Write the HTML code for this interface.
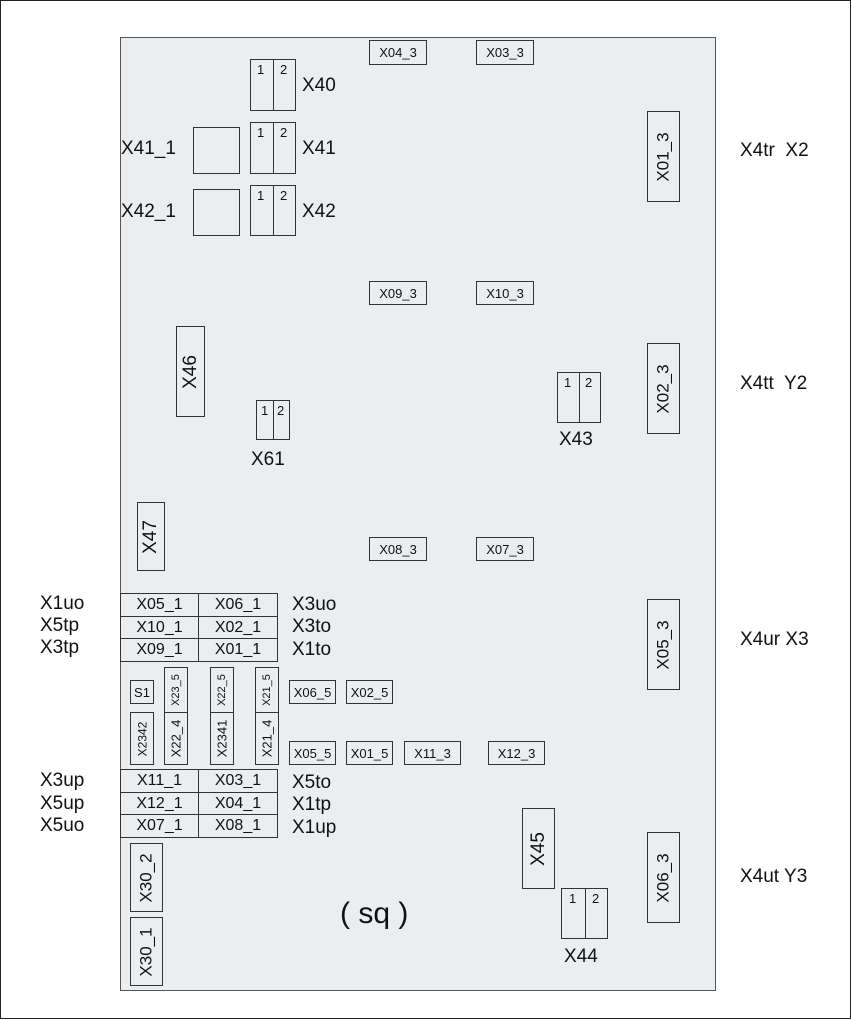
<!DOCTYPE html>
<html><head><meta charset="utf-8"><style>
html,body{margin:0;padding:0;background:#fff;}
body{width:851px;height:1020px;position:relative;overflow:hidden;font-family:"Liberation Sans",Arial,sans-serif;color:#111;}
.frame{position:absolute;left:0;top:0;width:849px;height:1017px;border:1px solid #222;}
.main{position:absolute;left:120px;top:37px;width:594px;height:952px;background:#eaeef1;border:1px solid #555;}
.b{position:absolute;border:1px solid #333;box-sizing:border-box;display:flex;align-items:center;justify-content:center;white-space:nowrap;}
.s{font-size:13px;}
.m{font-size:16px;}
.v span{transform:rotate(-90deg);display:block;}
.t{position:absolute;white-space:nowrap;font-size:19px;line-height:20px;}
.c2{position:absolute;border:1px solid #333;box-sizing:border-box;}
.c2:after{content:"";position:absolute;left:50%;top:0;bottom:0;border-left:1px solid #333;}
.c2 i{position:absolute;top:2px;font-style:normal;font-size:13px;}
</style></head><body>
<div class="frame"></div>
<div class="main"></div>

<div class="b s" style="left:369px;top:40px;width:58px;height:25px;">X04_3</div>
<div class="b s" style="left:476px;top:40px;width:58px;height:25px;">X03_3</div>
<div class="b s" style="left:369px;top:281px;width:58px;height:24px;">X09_3</div>
<div class="b s" style="left:476px;top:281px;width:58px;height:24px;">X10_3</div>
<div class="b s" style="left:369px;top:537px;width:58px;height:24px;">X08_3</div>
<div class="b s" style="left:476px;top:537px;width:58px;height:24px;">X07_3</div>

<div class="c2" style="left:250px;top:59px;width:46px;height:52px;"><i style="left:6px">1</i><i style="left:29px">2</i></div>
<div class="c2" style="left:250px;top:122px;width:46px;height:52px;"><i style="left:6px">1</i><i style="left:29px">2</i></div>
<div class="c2" style="left:250px;top:185px;width:46px;height:51px;"><i style="left:6px">1</i><i style="left:29px">2</i></div>
<div class="t" style="left:302px;top:76px;">X40</div>
<div class="t" style="left:302px;top:139px;">X41</div>
<div class="t" style="left:302px;top:202px;">X42</div>
<div class="b" style="left:193px;top:127px;width:47px;height:47px;"></div>
<div class="b" style="left:193px;top:189px;width:47px;height:47px;"></div>
<div class="t" style="left:121px;top:139px;">X41_1</div>
<div class="t" style="left:121px;top:202px;">X42_1</div>

<div class="b v" style="left:647px;top:111px;width:33px;height:91px;font-size:17px;"><span>X01_3</span></div>
<div class="b v" style="left:647px;top:343px;width:33px;height:91px;font-size:17px;"><span>X02_3</span></div>
<div class="b v" style="left:647px;top:599px;width:33px;height:91px;font-size:17px;"><span>X05_3</span></div>
<div class="b v" style="left:647px;top:832px;width:33px;height:91px;font-size:17px;"><span>X06_3</span></div>
<div class="t" style="left:740px;top:141px;">X4tr&nbsp; X2</div>
<div class="t" style="left:740px;top:374px;">X4tt&nbsp; Y2</div>
<div class="t" style="left:740px;top:630px;">X4ur X3</div>
<div class="t" style="left:740px;top:867px;">X4ut Y3</div>

<div class="b v" style="left:176px;top:326px;width:29px;height:91px;font-size:19px;"><span>X46</span></div>
<div class="c2" style="left:256px;top:400px;width:34px;height:40px;"><i style="left:4px">1</i><i style="left:20px">2</i></div>
<div class="t" style="left:251px;top:450px;">X61</div>
<div class="c2" style="left:557px;top:372px;width:44px;height:51px;"><i style="left:6px">1</i><i style="left:27px">2</i></div>
<div class="t" style="left:559px;top:430px;">X43</div>
<div class="b v" style="left:137px;top:502px;width:28px;height:69px;font-size:19px;"><span>X47</span></div>

<div class="b m" style="left:120px;top:593px;width:79px;height:24px;">X05_1</div>
<div class="b m" style="left:198px;top:593px;width:80px;height:24px;">X06_1</div>
<div class="b m" style="left:120px;top:616px;width:79px;height:23px;">X10_1</div>
<div class="b m" style="left:198px;top:616px;width:80px;height:23px;">X02_1</div>
<div class="b m" style="left:120px;top:638px;width:79px;height:24px;">X09_1</div>
<div class="b m" style="left:198px;top:638px;width:80px;height:24px;">X01_1</div>
<div class="t" style="left:292px;top:595px;">X3uo</div>
<div class="t" style="left:292px;top:617px;">X3to</div>
<div class="t" style="left:292px;top:640px;">X1to</div>
<div class="t" style="left:40px;top:594px;">X1uo</div>
<div class="t" style="left:40px;top:616px;">X5tp</div>
<div class="t" style="left:40px;top:638px;">X3tp</div>

<div class="b s" style="left:130px;top:680px;width:24px;height:24px;">S1</div>
<div class="b v" style="left:164px;top:667px;width:24px;height:46px;font-size:11px;"><span>X23_5</span></div>
<div class="b v" style="left:210px;top:667px;width:24px;height:46px;font-size:11px;"><span>X22_5</span></div>
<div class="b v" style="left:255px;top:667px;width:24px;height:46px;font-size:11px;"><span>X21_5</span></div>
<div class="b v" style="left:130px;top:712px;width:24px;height:53px;font-size:12px;"><span>X2342</span></div>
<div class="b v" style="left:164px;top:712px;width:24px;height:53px;font-size:13px;"><span>X22_4</span></div>
<div class="b v" style="left:210px;top:712px;width:24px;height:53px;font-size:13px;"><span>X2341</span></div>
<div class="b v" style="left:255px;top:712px;width:24px;height:53px;font-size:13px;"><span>X21_4</span></div>
<div class="b s" style="left:289px;top:680px;width:47px;height:24px;">X06_5</div>
<div class="b s" style="left:346px;top:680px;width:47px;height:24px;">X02_5</div>
<div class="b s" style="left:289px;top:741px;width:47px;height:24px;">X05_5</div>
<div class="b s" style="left:346px;top:741px;width:47px;height:24px;">X01_5</div>
<div class="b s" style="left:404px;top:741px;width:57px;height:24px;">X11_3</div>
<div class="b s" style="left:488px;top:741px;width:57px;height:24px;">X12_3</div>

<div class="b m" style="left:120px;top:769px;width:79px;height:24px;">X11_1</div>
<div class="b m" style="left:198px;top:769px;width:80px;height:24px;">X03_1</div>
<div class="b m" style="left:120px;top:792px;width:79px;height:23px;">X12_1</div>
<div class="b m" style="left:198px;top:792px;width:80px;height:23px;">X04_1</div>
<div class="b m" style="left:120px;top:814px;width:79px;height:24px;">X07_1</div>
<div class="b m" style="left:198px;top:814px;width:80px;height:24px;">X08_1</div>
<div class="t" style="left:292px;top:773px;">X5to</div>
<div class="t" style="left:292px;top:795px;">X1tp</div>
<div class="t" style="left:292px;top:818px;">X1up</div>
<div class="t" style="left:40px;top:771px;">X3up</div>
<div class="t" style="left:40px;top:794px;">X5up</div>
<div class="t" style="left:40px;top:816px;">X5uo</div>

<div class="b v" style="left:522px;top:808px;width:33px;height:81px;font-size:19px;"><span>X45</span></div>
<div class="c2" style="left:561px;top:888px;width:47px;height:51px;"><i style="left:7px">1</i><i style="left:30px">2</i></div>
<div class="t" style="left:564px;top:947px;">X44</div>

<div class="b v" style="left:130px;top:843px;width:33px;height:69px;font-size:17px;"><span>X30_2</span></div>
<div class="b v" style="left:130px;top:917px;width:33px;height:69px;font-size:17px;"><span>X30_1</span></div>
<div class="t" style="left:340px;top:898px;font-size:30px;line-height:32px;">( sq )</div>
</body></html>
